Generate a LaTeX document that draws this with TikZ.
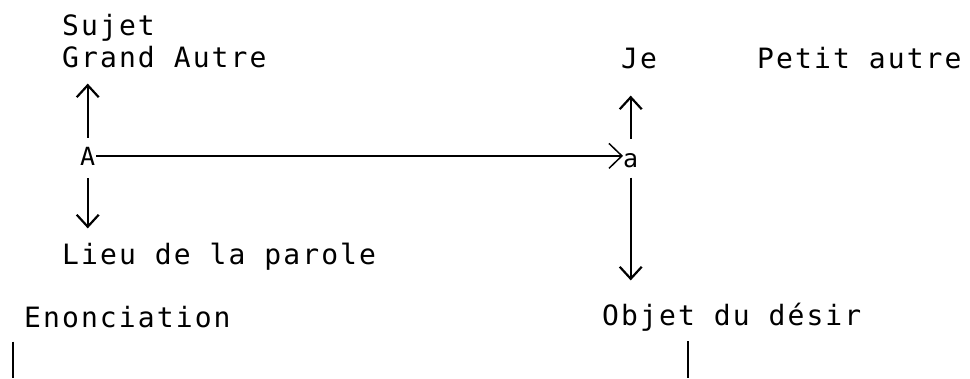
\documentclass[tikz,border=0pt]{standalone}
\usepackage{fontspec}
\usepackage{tikz}
\usetikzlibrary{arrows.meta}
\newfontfamily\typew[LetterSpace=7.5]{DejaVu Sans Mono}

\begin{document}
\begin{tikzpicture}[x=1pt, y=1pt,
    lbl/.style={inner sep=0pt, anchor=base west, font=\typew\fontsize{28}{32}\selectfont},
    pt/.style={inner sep=0pt, anchor=base west, font=\typew\fontsize{25}{28}\selectfont},
    arr/.style={line width=2.2pt, -{Straight Barb[length=12pt,width=22pt]}},
    harr/.style={line width=1.5pt, -{Straight Barb[length=13pt,width=25pt]}},
    bar/.style={line width=1.8pt}]
    \useasboundingbox (0,0) rectangle (970,-378);

    \node [lbl] (sujet) at (62,-35) {Sujet};
    \node [lbl] (ga) at (62,-67) {Grand Autre};
    \node [lbl] (je) at (621,-68) {Je};
    \node [lbl] (pa) at (757,-68) {Petit autre};
    \node [pt] (A) at (80,-165) {A};
    \node [pt] (a) at (623,-167) {a};
    \node [lbl] (lieu) at (62,-264) {Lieu de la parole};
    \node [lbl] (enonc) at (24,-327) {Enonciation};
    \node [lbl] (objet) at (602,-325) {Objet du désir};
    \coordinate (e1) at (13,-378);
    \coordinate (o1) at (688,-378);

    \draw [arr, shorten <=9pt, shorten >=16pt] (A.north) -- (A.north |- ga.south);
    \draw [arr, shorten <=13pt, shorten >=14pt] (A.south) -- (A.south |- lieu.north);
    \draw [harr, shorten <=1pt] (A.east) -- (A.east -| a.west);
    \draw [arr, shorten <=14pt, shorten >=27pt] (a.north) -- (a.north |- je.south);
    \draw [arr, shorten <=10pt, shorten >=22pt] (a.south) -- (a.south |- objet.north);
    \draw [bar, shorten <=14pt] (e1 |- enonc.south) -- (e1);
    \draw [bar, shorten <=10pt] (o1 |- objet.south) -- (o1);
\end{tikzpicture}
\end{document}
